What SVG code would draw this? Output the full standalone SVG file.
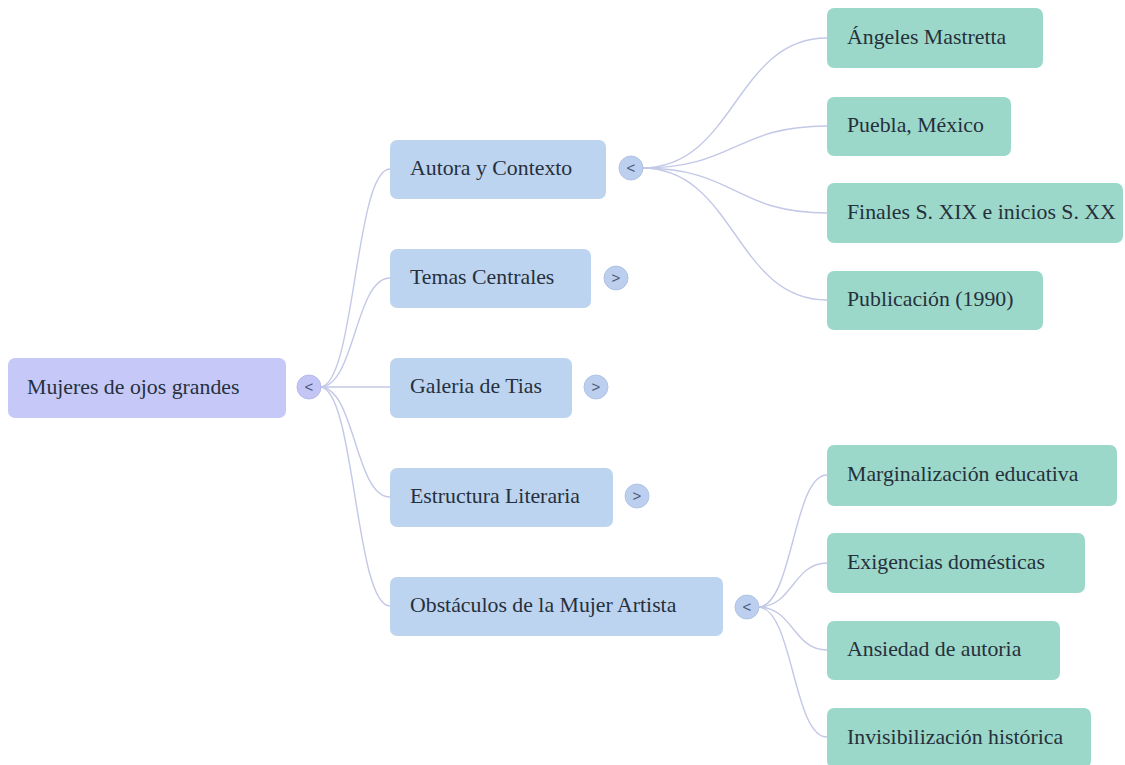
<svg xmlns="http://www.w3.org/2000/svg" width="1125" height="765" viewBox="0 0 1125 765">
<style>
.t{font-family:'Liberation Serif','Times New Roman',serif;font-size:21.8px;fill:#26303c}
.r{fill:#c6c9f8}
.l1{fill:#bdd4f0}
.l2{fill:#9cd8c9}
.tg{fill:#bccfee;stroke:#b0c4e6;stroke-width:1}
.tgr{fill:#c3c6f4;stroke:#b6b9ee;stroke-width:1}
.tt{font-family:'Liberation Sans',Arial,sans-serif;font-size:15px;fill:#4a5874;text-anchor:middle}
.e{fill:none;stroke:#c3c8e7;stroke-width:1.4}
</style>
<rect width="1125" height="765" fill="#ffffff"/>
<g id="connectors">
<path class="e" d="M320,387 C355,387 355,169 390,169"/>
<path class="e" d="M320,387 C355,387 355,278 390,278"/>
<path class="e" d="M320,387 L390,387"/>
<path class="e" d="M320,387 C355,387 355,497 390,497"/>
<path class="e" d="M320,387 C355,387 355,606 390,606"/>
<path class="e" d="M642,168 C735,168 735,38 827,38"/>
<path class="e" d="M642,168 C735,168 735,126 827,126"/>
<path class="e" d="M642,168 C735,168 735,213 827,213"/>
<path class="e" d="M642,168 C735,168 735,300 827,300"/>
<path class="e" d="M758,607 C793,607 793,475 827,475"/>
<path class="e" d="M758,607 C793,607 793,563 827,563"/>
<path class="e" d="M758,607 C793,607 793,650 827,650"/>
<path class="e" d="M758,607 C793,607 793,737 827,737"/>
</g>
<g id="root">
<rect class="r" x="8" y="358" width="278" height="60" rx="7"/>
<text class="t" x="27" y="394">Mujeres de ojos grandes</text>
<circle class="tgr" cx="309" cy="387" r="12"/>
<text class="tt" x="309" y="392">&lt;</text>
</g>
<g id="autora">
<rect class="l1" x="390" y="140" width="216" height="59" rx="7"/>
<text class="t" x="410" y="175">Autora y Contexto</text>
<circle class="tg" cx="631" cy="168" r="12"/>
<text class="tt" x="631" y="173">&lt;</text>
</g>
<g id="temas">
<rect class="l1" x="390" y="249" width="201" height="59" rx="7"/>
<text class="t" x="410" y="284">Temas Centrales</text>
<circle class="tg" cx="616" cy="278" r="12"/>
<text class="tt" x="616" y="283">&gt;</text>
</g>
<g id="galeria">
<rect class="l1" x="390" y="358" width="182" height="60" rx="7"/>
<text class="t" x="410" y="393">Galeria de Tias</text>
<circle class="tg" cx="596" cy="387" r="12"/>
<text class="tt" x="596" y="392">&gt;</text>
</g>
<g id="estructura">
<rect class="l1" x="390" y="468" width="223" height="59" rx="7"/>
<text class="t" x="410" y="503">Estructura Literaria</text>
<circle class="tg" cx="637" cy="496" r="12"/>
<text class="tt" x="637" y="501">&gt;</text>
</g>
<g id="obstaculos">
<rect class="l1" x="390" y="577" width="333" height="59" rx="7"/>
<text class="t" x="410" y="612">Obstáculos de la Mujer Artista</text>
<circle class="tg" cx="747" cy="607" r="12"/>
<text class="tt" x="747" y="612">&lt;</text>
</g>
<g id="angeles">
<rect class="l2" x="827" y="8" width="216" height="60" rx="7"/>
<text class="t" x="847" y="44">Ángeles Mastretta</text>
</g>
<g id="puebla">
<rect class="l2" x="827" y="97" width="184" height="59" rx="7"/>
<text class="t" x="847" y="132">Puebla, México</text>
</g>
<g id="finales">
<rect class="l2" x="827" y="183" width="296" height="60" rx="7"/>
<text class="t" x="847" y="219">Finales S. XIX e inicios S. XX</text>
</g>
<g id="publicacion">
<rect class="l2" x="827" y="271" width="216" height="59" rx="7"/>
<text class="t" x="847" y="306">Publicación (1990)</text>
</g>
<g id="marginalizacion">
<rect class="l2" x="827" y="445" width="290" height="61" rx="7"/>
<text class="t" x="847" y="481">Marginalización educativa</text>
</g>
<g id="exigencias">
<rect class="l2" x="827" y="533" width="258" height="60" rx="7"/>
<text class="t" x="847" y="569">Exigencias domésticas</text>
</g>
<g id="ansiedad">
<rect class="l2" x="827" y="621" width="233" height="59" rx="7"/>
<text class="t" x="847" y="656">Ansiedad de autoria</text>
</g>
<g id="invisibilizacion">
<rect class="l2" x="827" y="708" width="264" height="60" rx="7"/>
<text class="t" x="847" y="744">Invisibilización histórica</text>
</g>
</svg>
